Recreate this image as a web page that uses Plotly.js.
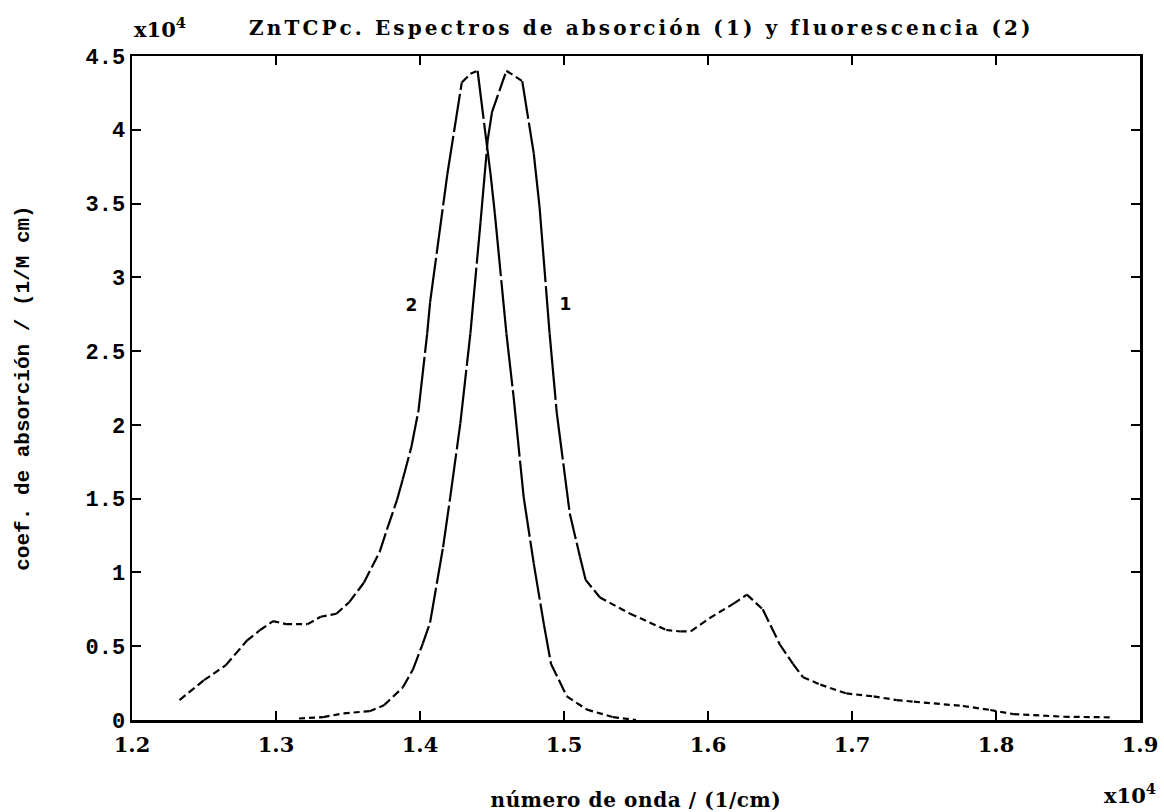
<!DOCTYPE html>
<html>
<head>
<meta charset="utf-8">
<script src="https://cdn.plot.ly/plotly-3.0.1.min.js"></script>
<style>
  html, body { margin: 0; padding: 0; background: #fff; }
  #chart { width: 1164px; height: 812px; }
  /* wide, plotter-like lettering */
  #chart .gtitle { letter-spacing: 3.1px; }
  #chart .xtitle { letter-spacing: 0.6px; }
</style>
</head>
<body>
<div id="chart"></div>
<script>
// Wavenumber axis, in units of 10^4 cm^-1
const absWave = [1.316, 1.333, 1.347, 1.365, 1.375, 1.388, 1.395, 1.402, 1.407, 1.416,
  1.421, 1.428, 1.435, 1.442, 1.447, 1.450, 1.460, 1.471, 1.479, 1.483,
  1.490, 1.495, 1.504, 1.511, 1.515, 1.525, 1.546, 1.571, 1.581, 1.588,
  1.601, 1.618, 1.627, 1.638, 1.650, 1.659, 1.666, 1.678, 1.696, 1.715,
  1.731, 1.743, 1.777, 1.796, 1.812, 1.847, 1.879];
// Absorption coefficient (1), in units of 10^4 1/(M cm)
const absCoef = [0.01, 0.02, 0.045, 0.06, 0.10, 0.22, 0.34, 0.52, 0.66, 1.17,
  1.51, 2.01, 2.62, 3.37, 3.93, 4.12, 4.40, 4.33, 3.84, 3.48,
  2.62, 2.08, 1.40, 1.11, 0.95, 0.83, 0.72, 0.61, 0.60, 0.60,
  0.69, 0.79, 0.85, 0.75, 0.51, 0.38, 0.29, 0.24, 0.18, 0.16,
  0.135, 0.124, 0.095, 0.068, 0.04, 0.022, 0.018];

// Fluorescence spectrum (2), scaled to the same peak height
const fluoWave = [1.233, 1.250, 1.265, 1.280, 1.289, 1.298, 1.307, 1.322, 1.331, 1.342,
  1.351, 1.361, 1.372, 1.377, 1.384, 1.388, 1.394, 1.399, 1.405, 1.407,
  1.419, 1.429, 1.435, 1.440, 1.446, 1.449, 1.452, 1.460, 1.465, 1.472,
  1.479, 1.486, 1.491, 1.502, 1.516, 1.534, 1.550];
const fluoCoef = [0.135, 0.27, 0.37, 0.54, 0.61, 0.67, 0.65, 0.65, 0.70, 0.72,
  0.80, 0.93, 1.14, 1.29, 1.49, 1.63, 1.85, 2.10, 2.62, 2.83,
  3.70, 4.32, 4.38, 4.40, 3.93, 3.70, 3.43, 2.62, 2.19, 1.51,
  1.06, 0.65, 0.38, 0.16, 0.07, 0.02, 0.0];

const xTicks = [1.2, 1.3, 1.4, 1.5, 1.6, 1.7, 1.8, 1.9];
const yTicks = [0, 0.5, 1, 1.5, 2, 2.5, 3, 3.5, 4, 4.5];

const curveLabels = ['1', '2'];
const labelWave = [1.501, 1.394];
const labelCoef = [2.81, 2.80];

const W = 1164, H = 812;
const margin = { l: 132, r: 24, t: 56, b: 92, pad: 0 };
const xRange = [1.2, 1.9], yRange = [0, 4.5];
const pxPerX = (W - margin.l - margin.r) / (xRange[1] - xRange[0]);
const pxPerY = (H - margin.t - margin.b) / (yRange[1] - yRange[0]);

// Plotter-style dashes: the dash length follows the horizontal advance,
// so steep flanks come out almost solid and flat tails finely dashed.
function dashedSegments(xs, ys) {
  const out = [];
  for (let i = 0; i < xs.length - 1; i++) {
    const dx = (xs[i + 1] - xs[i]) * pxPerX;
    const dy = (ys[i + 1] - ys[i]) * pxPerY;
    const stretch = Math.sqrt(dx * dx + dy * dy) / Math.max(Math.abs(dx), 0.5);
    const dash = Math.min(6 * stretch, 80).toFixed(1);
    out.push({
      type: 'scatter', mode: 'lines',
      x: [xs[i], xs[i + 1]], y: [ys[i], ys[i + 1]],
      line: { color: '#000', width: 2.2, dash: dash + 'px,4px' },
      hoverinfo: 'skip', showlegend: false
    });
  }
  return out;
}

const traces = [
  ...dashedSegments(absWave, absCoef),
  ...dashedSegments(fluoWave, fluoCoef),
  {
    type: 'scatter', mode: 'text',
    x: labelWave, y: labelCoef, text: curveLabels,
    textfont: { family: 'DejaVu Sans', size: 17, color: '#000', weight: 'bold' },
    hoverinfo: 'skip', showlegend: false
  }
];

const serifBold = { family: 'DejaVu Serif', size: 21, color: '#000', weight: 'bold' };
const monoBold = { family: 'Liberation Mono', size: 22, color: '#000', weight: 'bold' };

const layout = {
  width: W, height: H,
  margin: margin,
  paper_bgcolor: '#fff', plot_bgcolor: '#fff',
  showlegend: false,
  title: {
    text: 'ZnTCPc. Espectros de absorción (1) y fluorescencia (2)',
    font: { family: 'DejaVu Serif', size: 20, color: '#000', weight: 'bold' },
    x: 0.551, xanchor: 'center', y: 0.966, yanchor: 'middle'
  },
  xaxis: {
    range: xRange, tickvals: xTicks, tickformat: '.1f',
    ticks: 'inside', ticklen: 9, tickwidth: 2, tickcolor: '#000',
    showline: true, linecolor: '#000', linewidth: 2.5, mirror: 'allticks',
    showgrid: false, zeroline: false, ticklabelstandoff: 4,
    tickfont: serifBold,
    title: { text: 'número de onda / (1/cm)',
             font: { family: 'DejaVu Serif', size: 20, color: '#000', weight: 'bold' },
             standoff: 41 }
  },
  yaxis: {
    range: yRange, tickvals: yTicks,
    ticks: 'inside', ticklen: 9, tickwidth: 2, tickcolor: '#000',
    showline: true, linecolor: '#000', linewidth: 2.5, mirror: 'allticks',
    showgrid: false, zeroline: false,
    tickfont: monoBold,
    title: { text: 'coef. de absorción / (1/M cm)',
             font: { family: 'Liberation Mono', size: 21, color: '#000', weight: 'bold' },
             standoff: 50 }
  },
  annotations: [
    { text: 'x10<sup>4</sup>', xref: 'paper', yref: 'paper', x: 0, y: 1, xanchor: 'left', yanchor: 'bottom',
      yshift: 12, showarrow: false, font: serifBold },
    { text: 'x10<sup>4</sup>', xref: 'paper', yref: 'paper', x: 1.018, y: 0, xanchor: 'right', yanchor: 'top',
      yshift: -58, showarrow: false, font: serifBold }
  ]
};

Plotly.newPlot('chart', traces, layout, { staticPlot: true, displayModeBar: false });
</script>
</body>
</html>
